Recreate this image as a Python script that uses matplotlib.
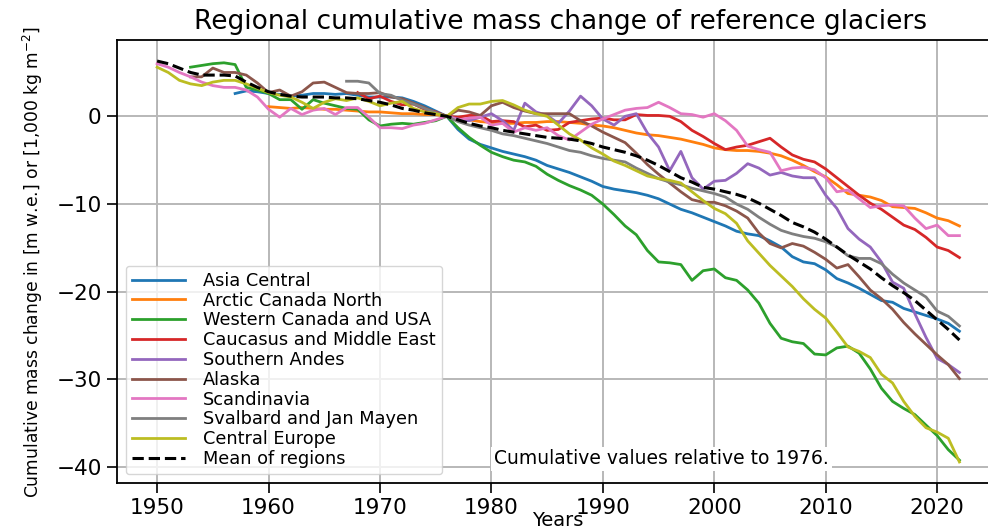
import numpy as np
import matplotlib
matplotlib.use("Agg")
import matplotlib.pyplot as plt

# ---------------- data ----------------
asia_central_start = 1957
asia_central = [2.6, 2.9, 2.8, 2.6, 2.5, 2.3, 2.4, 2.6, 2.6, 2.5, 2.6, 2.4, 2.2, 2.2, 2.2, 2.1, 1.7, 1.2, 0.6, 0.0,
                -1.5, -2.6, -3.2, -3.6, -4.0, -4.3, -4.6, -5.0, -5.6, -6.0, -6.4, -6.9, -7.4, -8.0, -8.3, -8.5,
                -8.7, -9.0, -9.4, -10.0, -10.6, -11.0, -11.5, -12.0, -12.5, -13.1, -13.4, -13.6, -14.2, -14.9,
                -16.0, -16.6, -16.8, -17.5, -18.5, -19.0, -19.6, -20.3, -21.0, -21.2, -21.9, -22.3, -22.7,
                -23.1, -23.6, -24.5]

arctic_canada_north_start = 1960
arctic_canada_north = [1.1, 1.0, 0.9, 1.0, 0.9, 0.8, 0.8, 0.7, 0.6, 0.5, 0.5, 0.4, 0.3, 0.3, 0.2, 0.2, 0.0,
                       -0.2, -0.4, -0.6, -0.7, -0.8, -0.8, -0.7, -0.7, -0.6, -0.6, -0.7, -0.8, -1.0, -1.1, -1.3,
                       -1.6, -1.9, -2.1, -2.2, -2.4, -2.6, -2.9, -3.2, -3.6, -3.8, -3.9, -3.9, -4.0, -4.2, -4.5,
                       -5.0, -5.6, -6.3, -6.9, -7.8, -8.8, -9.0, -9.2, -9.6, -10.3, -10.4, -10.5, -11.0, -11.6,
                       -11.9, -12.5]

western_canada_usa_start = 1953
western_canada_usa = [5.6, 5.8, 6.0, 6.1, 5.9, 3.3, 3.0, 2.6, 1.9, 1.9, 0.8, 1.9, 1.5, 1.2, 0.9, 0.8, -0.4, -1.1,
                      -0.9, -0.8, -0.9, -0.7, -0.5, 0.0,
                      -1.3, -2.4, -3.3, -4.1, -4.6, -5.0, -5.2, -5.7, -6.6, -7.3, -7.9, -8.4, -9.0, -10.0, -11.2,
                      -12.5, -13.5, -15.3, -16.6, -16.7, -16.9, -18.7, -17.6, -17.4, -18.4, -18.7, -19.8, -21.3,
                      -23.6, -25.3, -25.7, -25.9, -27.1, -27.2, -26.4, -26.2, -27.0, -28.8, -31.0, -32.5, -33.3,
                      -34.0, -35.2, -36.4, -38.0, -39.2]

caucasus_middle_east_start = 1968
caucasus_middle_east = [2.7, 2.0, 2.3, 1.7, 1.3, 1.4, 0.8, 0.5, 0.0,
                        -0.1, 0.1, 0.1, -0.6, -0.5, -0.6, -1.2, -1.0, -1.6, -1.5, -0.7, -0.5, -0.3, -0.2, -0.4,
                        -0.4, 0.2, 0.1, 0.1, 0.0, -0.6, -1.6, -2.3, -3.1, -3.8, -3.5, -3.3, -2.9, -2.5, -3.5, -4.4,
                        -4.9, -5.2, -6.0, -7.0, -8.0, -9.0, -9.9, -10.6, -11.5, -12.4, -12.9, -13.8, -14.9, -15.3,
                        -16.1]

southern_andes_start = 1976
southern_andes = [0.0, -0.3, -0.5, -0.1, 0.3, -0.5, -1.6, 1.5, 0.5, 0.1, -0.8, 0.6, 2.3, 1.2, -0.3, -1.0, 0.0, 0.3,
                  -1.9, -3.5, -6.2, -4.0, -7.0, -8.3, -7.4, -7.3, -6.5, -5.4, -5.9, -6.7, -6.4, -6.8, -7.0, -7.0,
                  -9.0, -10.5, -12.8, -14.0, -14.9, -16.6, -18.9, -19.6, -22.5, -25.2, -27.6, -28.3, -29.2]

alaska_start = 1953
alaska = [4.5, 4.5, 5.5, 5.0, 5.0, 4.7, 3.8, 2.7, 3.0, 2.3, 2.8, 3.8, 3.9, 3.3, 2.7, 2.6, 2.6, 2.7, 2.2, 2.0, 1.5,
          1.0, 0.4, 0.0,
          0.7, 0.5, 0.1, 1.2, 1.6, 1.0, 0.6, 0.3, 0.3, 0.3, 0.3, -0.5, -1.1, -1.8, -2.4, -3.0, -4.2, -5.5, -6.6,
          -7.6, -8.6, -9.5, -9.8, -9.8, -10.2, -10.8, -11.6, -13.3, -14.5, -15.0, -14.5, -14.8, -15.5, -16.3,
          -17.3, -16.9, -18.3, -19.8, -20.8, -22.0, -23.5, -24.8, -26.0, -27.2, -28.3, -29.9]

scandinavia_start = 1950
scandinavia = [6.0, 5.6, 5.0, 4.5, 3.9, 3.5, 3.3, 3.3, 3.0, 2.2, 0.8, -0.1, 0.9, 0.2, 0.7, 0.9, 0.2, 1.0, 1.0,
               -0.1, -1.3, -1.3, -1.4, -1.0, -0.8, -0.4, 0.0,
               -0.4, -0.2, -0.1, -1.0, -0.8, -1.8, -1.3, -1.6, -1.3, -2.2, -2.7, -1.8, -0.9, -0.3, 0.2, 0.7, 0.9,
               1.0, 1.6, 1.0, 0.3, 0.2, -0.1, 0.3, -0.5, -1.6, -3.4, -3.8, -4.1, -6.2, -5.9, -5.8, -6.1, -7.0,
               -8.6, -8.4, -9.4, -10.4, -10.2, -10.1, -10.2, -11.6, -12.8, -12.4, -13.6, -13.6]

svalbard_jan_mayen_start = 1967
svalbard_jan_mayen = [4.0, 4.0, 3.8, 2.6, 2.4, 1.8, 1.4, 0.9, 0.4, 0.0,
                      -0.6, -1.0, -1.3, -1.6, -2.0, -2.2, -2.5, -2.8, -3.1, -3.5, -3.9, -4.1, -4.5, -4.8, -5.0,
                      -5.2, -5.9, -6.5, -7.1, -7.5, -7.8, -8.2, -8.5, -8.8, -9.2, -10.0, -10.6, -11.5, -12.3,
                      -13.0, -13.4, -13.7, -13.9, -14.3, -14.9, -15.9, -16.2, -16.2, -16.8, -18.0, -19.0, -19.8,
                      -20.6, -22.2, -22.8, -23.9]

central_europe_start = 1950
central_europe = [5.6, 5.0, 4.1, 3.7, 3.5, 3.9, 4.1, 4.1, 3.7, 3.2, 2.7, 2.4, 2.2, 1.6, 0.9, 1.6, 2.0, 1.8, 2.1,
                  1.7, 1.2, 1.5, 1.7, 0.9, 0.5, 0.3, 0.0,
                  1.0, 1.4, 1.4, 1.7, 1.8, 1.3, 0.7, 0.3, 0.0, -1.0, -2.0, -2.7, -3.6, -4.3, -5.1, -5.6, -6.2,
                  -6.8, -7.1, -7.3, -7.6, -8.6, -9.6, -10.5, -11.1, -12.2, -14.2, -15.6, -17.0, -18.2, -19.4,
                  -20.8, -22.0, -23.0, -24.6, -26.3, -26.8, -27.5, -29.4, -30.4, -32.5, -34.2, -35.5, -36.0,
                  -36.7, -39.4]

mean_start = 1950
mean_of_regions = [6.3, 6.0, 5.5, 5.0, 4.7, 4.7, 4.7, 4.6, 3.9, 3.3, 2.8, 2.5, 2.3, 2.2, 2.2, 2.2, 2.1, 2.1, 2.0,
                   1.8, 1.6, 1.3, 0.9, 0.7, 0.4, 0.2, 0.0,
                   -0.4, -0.8, -1.1, -1.3, -1.6, -1.8, -2.0, -2.2, -2.4, -2.5, -2.6, -2.8, -3.1, -3.5, -3.8,
                   -4.1, -4.5, -5.0, -5.6, -6.3, -7.0, -7.5, -8.1, -8.3, -8.6, -8.9, -9.3, -9.9, -10.6, -11.3,
                   -12.1, -12.6, -13.2, -14.0, -14.9, -15.8, -16.6, -17.4, -18.4, -19.3, -20.1, -21.0, -22.1,
                   -23.2, -24.3, -25.5]

region_names = ["Asia Central", "Arctic Canada North", "Western Canada and USA",
                "Caucasus and Middle East", "Southern Andes", "Alaska", "Scandinavia",
                "Svalbard and Jan Mayen", "Central Europe"]
region_starts = [asia_central_start, arctic_canada_north_start, western_canada_usa_start,
                 caucasus_middle_east_start, southern_andes_start, alaska_start, scandinavia_start,
                 svalbard_jan_mayen_start, central_europe_start]
region_values = [asia_central, arctic_canada_north, western_canada_usa, caucasus_middle_east,
                 southern_andes, alaska, scandinavia, svalbard_jan_mayen, central_europe]

x_ticks = [1950, 1960, 1970, 1980, 1990, 2000, 2010, 2020]
y_ticks = [0, -10, -20, -30, -40]

# ---------------- figure ----------------
plt.rcParams['font.family'] = ['DejaVu Sans']
fig = plt.figure(figsize=(9.88, 5.31), dpi=100)
W, H = 988, 531
left_px, right_px, top_px, bottom_px = 117, 1004, 40, 483
ax = fig.add_axes([left_px / W, 1 - bottom_px / H, (right_px - left_px) / W, (bottom_px - top_px) / H])

colors = plt.rcParams['axes.prop_cycle'].by_key()['color']
for i, (name, start, vals) in enumerate(zip(region_names, region_starts, region_values)):
    years = np.arange(start, start + len(vals))
    ax.plot(years, vals, color=colors[i], lw=2.0, label=name)

mean_years = np.arange(mean_start, mean_start + len(mean_of_regions))
ax.plot(mean_years, mean_of_regions, 'k--', lw=2.2, label="Mean of regions")

ax.set_xlim(1946.4, 2026.0)
ax.set_ylim(-41.8, 8.7)
ax.set_xticks(x_ticks)
ax.set_yticks(y_ticks)
ax.set_yticklabels(["0", "\u221210", "\u221220", "\u221230", "\u221240"])
ax.tick_params(axis='both', labelsize=15.5, length=7, width=1.2, pad=4)
ax.grid(True, color='#b8b8b8', lw=1.4)
for sp in ax.spines.values():
    sp.set_linewidth(1.3)

ax.set_title("Regional cumulative mass change of reference glaciers", fontsize=19, pad=8)
ax.set_xlabel("Years", fontsize=14)
ax.xaxis.label.set_va('bottom')
ax.xaxis.set_label_coords((558 - left_px) / (right_px - left_px), (bottom_px - 530) / (bottom_px - top_px))
ax.set_ylabel("Cumulative mass change in [m w.e.] or [1,000 kg m$^{-2}$]", fontsize=12.3, labelpad=8)

leg = ax.legend(loc='lower left', fontsize=12.8, labelspacing=0.1, handlelength=3.0,
                handletextpad=1.0, borderaxespad=0.5, borderpad=0.35, framealpha=0.8)

ax.text(0.425, 0.033, "Cumulative values relative to 1976.", transform=ax.transAxes,
        fontsize=13.5, ha='left', va='bottom',
        bbox=dict(facecolor='white', edgecolor='none', pad=2))

fig.savefig("out.png", dpi=100)
